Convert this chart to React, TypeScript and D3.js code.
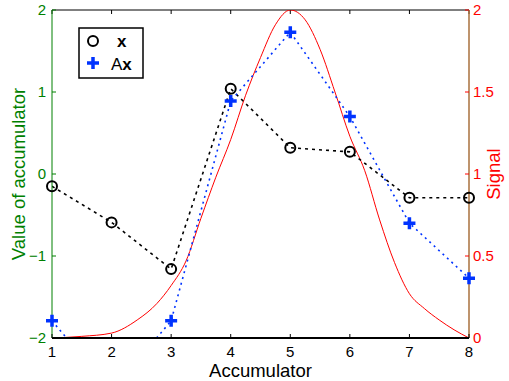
import { useRef, useEffect } from 'react'
import * as d3 from 'd3'

const ACC = [1, 2, 3, 4, 5, 6, 7, 8]
const X_VALUES = [-0.15, -0.59, -1.16, 1.04, 0.32, 0.27, -0.29, -0.29]
const AX_VALUES = [-1.79, -2.65, -1.79, 0.89, 1.73, 0.7, -0.6, -1.27]

const SIGNAL_POS = [1, 1.5, 2, 2.43, 2.76, 3, 3.25, 3.5, 3.75, 4, 4.25, 4.5, 4.75, 5, 5.25, 5.5, 5.75, 6, 6.25, 6.5, 6.75, 7, 7.25, 7.5, 7.75, 8]
const SIGNAL = [0, 0.01, 0.03, 0.11, 0.21, 0.32, 0.47, 0.73, 0.98, 1.21, 1.48, 1.71, 1.91, 2, 1.94, 1.76, 1.5, 1.23, 1.02, 0.72, 0.46, 0.27, 0.18, 0.11, 0.05, 0]

const LEFT_TICKS = [-2, -1, 0, 1, 2]
const RIGHT_TICKS = [0, 0.5, 1, 1.5, 2]

const W = 509
const H = 381
const GREEN = '#008000'
const RED = '#ff0000'
const BLUE = '#0033ff'
const FONT = 'Liberation Sans, Arial, sans-serif'

export default function App() {
  const svgRef = useRef<SVGSVGElement>(null)

  useEffect(() => {
    const el = svgRef.current
    if (!el) return
    const svg = d3.select(el)
    svg.selectAll('*').remove()

    const m = { l: 52, r: 469, t: 10, b: 338 }
    const x = d3.scaleLinear().domain([1, 8]).range([m.l, m.r])
    const yL = d3.scaleLinear().domain([-2, 2]).range([m.b, m.t])
    const yR = d3.scaleLinear().domain([0, 2]).range([m.b, m.t])

    svg.append('defs').append('clipPath').attr('id', 'plotclip')
      .append('rect').attr('x', m.l).attr('y', m.t).attr('width', m.r - m.l).attr('height', m.b - m.t)

    // top border with inward ticks
    svg.append('line').attr('x1', m.l).attr('x2', m.r).attr('y1', m.t).attr('y2', m.t)
      .attr('stroke', '#000').attr('stroke-width', 1)
    ACC.forEach(a => {
      svg.append('line').attr('x1', x(a)).attr('x2', x(a)).attr('y1', m.t).attr('y2', m.t + 4)
        .attr('stroke', '#000')
    })

    // red signal
    const plot = svg.append('g').attr('clip-path', 'url(#plotclip)')
    const sigLine = d3.line<number>()
      .x((_, i) => x(SIGNAL_POS[i]))
      .y(d => yR(d))
      .curve(d3.curveMonotoneX)
    plot.append('path').attr('d', sigLine(SIGNAL)).attr('fill', 'none')
      .attr('stroke', RED).attr('stroke-width', 1)

    // dashed / dotted series
    const ln = d3.line<number>().x((_, i) => x(ACC[i])).y(d => yL(d))
    plot.append('path').attr('d', ln(X_VALUES)).attr('fill', 'none')
      .attr('stroke', '#000').attr('stroke-width', 1.6).attr('stroke-dasharray', '3,4')
    plot.append('path').attr('d', ln(AX_VALUES)).attr('fill', 'none')
      .attr('stroke', BLUE).attr('stroke-width', 1.6).attr('stroke-dasharray', '2,4')

    // left axis (green)
    svg.append('line').attr('x1', m.l).attr('x2', m.l).attr('y1', m.t).attr('y2', m.b)
      .attr('stroke', GREEN).attr('stroke-width', 1)
    LEFT_TICKS.forEach(t => {
      svg.append('line').attr('x1', m.l).attr('x2', m.l + 4).attr('y1', yL(t)).attr('y2', yL(t))
        .attr('stroke', GREEN)
      svg.append('text').attr('x', m.l - 6).attr('y', yL(t)).attr('dy', '0.35em')
        .attr('text-anchor', 'end').attr('font-family', FONT).attr('font-size', 15)
        .attr('fill', GREEN).text(t < 0 ? `\u2212${-t}` : `${t}`)
    })

    // right axis (red)
    svg.append('line').attr('x1', m.r).attr('x2', m.r).attr('y1', m.t).attr('y2', m.b)
      .attr('stroke', '#a8703c').attr('stroke-width', 1.5)
    RIGHT_TICKS.forEach(t => {
      svg.append('line').attr('x1', m.r - 4).attr('x2', m.r).attr('y1', yR(t)).attr('y2', yR(t))
        .attr('stroke', RED)
      svg.append('text').attr('x', m.r + 4).attr('y', yR(t)).attr('dy', '0.35em')
        .attr('text-anchor', 'start').attr('font-family', FONT).attr('font-size', 15)
        .attr('fill', RED).text(`${t}`)
    })

    // bottom axis
    svg.append('line').attr('x1', m.l).attr('x2', m.r).attr('y1', m.b).attr('y2', m.b)
      .attr('stroke', '#000').attr('stroke-width', 2)
    ACC.forEach(a => {
      svg.append('line').attr('x1', x(a)).attr('x2', x(a)).attr('y1', m.b).attr('y2', m.b - 4)
        .attr('stroke', '#000')
      svg.append('text').attr('x', x(a)).attr('y', m.b + 19)
        .attr('text-anchor', 'middle').attr('font-family', FONT).attr('font-size', 15)
        .attr('fill', '#000').text(`${a}`)
    })

    // markers
    const circle = (g: any, cx: number, cy: number) =>
      g.append('circle').attr('cx', cx).attr('cy', cy).attr('r', 5)
        .attr('fill', 'none').attr('stroke', '#000').attr('stroke-width', 2)
    const plus = (g: any, cx: number, cy: number) =>
      g.append('path').attr('d', `M${cx - 6},${cy}H${cx + 6}M${cx},${cy - 6}V${cy + 6}`)
        .attr('stroke', BLUE).attr('stroke-width', 3.5).attr('fill', 'none')

    X_VALUES.forEach((v, i) => { if (v >= -2 && v <= 2) circle(svg, x(ACC[i]), yL(v)) })
    AX_VALUES.forEach((v, i) => { if (v >= -2 && v <= 2) plus(svg, x(ACC[i]), yL(v)) })

    // labels
    svg.append('text').attr('x', (m.l + m.r) / 2).attr('y', 377)
      .attr('text-anchor', 'middle').attr('font-family', FONT).attr('font-size', 18.5)
      .attr('fill', '#000').text('Accumulator')
    svg.append('text').attr('transform', `translate(25,${(m.t + m.b) / 2}) rotate(-90)`)
      .attr('text-anchor', 'middle').attr('font-family', FONT).attr('font-size', 18.5)
      .attr('fill', GREEN).text('Value of accumulator')
    svg.append('text').attr('transform', `translate(500,${(m.t + m.b) / 2}) rotate(-90)`)
      .attr('text-anchor', 'middle').attr('font-family', FONT).attr('font-size', 18.5)
      .attr('fill', RED).text('Signal')

    // legend
    const lg = svg.append('g')
    lg.append('rect').attr('x', 79).attr('y', 28).attr('width', 64).attr('height', 50)
      .attr('fill', '#fff').attr('stroke', '#000').attr('stroke-width', 1.5)
    circle(lg, 93, 41)
    plus(lg, 93, 63)
    lg.append('text').attr('x', 117).attr('y', 47).attr('font-family', FONT).attr('font-size', 17)
      .attr('font-weight', 'bold').attr('fill', '#000').text('x')
    const t2 = lg.append('text').attr('x', 111).attr('y', 70).attr('font-family', FONT)
      .attr('font-size', 17).attr('fill', '#000')
    t2.append('tspan').text('A')
    t2.append('tspan').attr('font-weight', 'bold').text('x')
  }, [])

  return (
    <div style={{ position: 'absolute', left: 0, top: 0 }}>
      <svg ref={svgRef} width={W} height={H} style={{ display: 'block', background: '#fff' }} />
    </div>
  )
}
